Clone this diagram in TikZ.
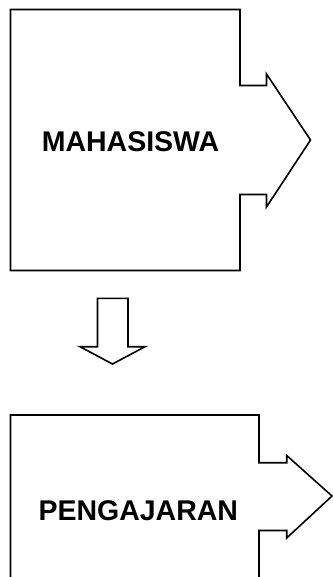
\documentclass[tikz,border=0pt]{standalone}
\usepackage{fontspec}
\setmainfont{Liberation Sans}
\begin{document}
\begin{tikzpicture}[x=1pt,y=-1pt,
  shapeline/.style={draw=black,line width=1.6pt,line join=miter,fill=white},
  label/.style={font=\bfseries\fontsize{28.5}{31}\selectfont,anchor=base,inner sep=0pt}]
\useasboundingbox (0,0) rectangle (332,577);
% top box with arrow
\draw[shapeline] (10.5,9.5) -- (240,9.5) -- (240,85.5) -- (266.5,85.5) -- (266.5,74)
  -- (310.5,140) -- (266.5,207) -- (266.5,194.5) -- (240,194.5) -- (240,270.5)
  -- (10.5,270.5) -- cycle;
\node[label] (mhs) at (130.5,151.7) {MAHASISWA};
% down arrow
\draw[shapeline] (97.5,298.3) -- (128,298.3) -- (128,346.7) -- (145,346.7)
  -- (112.5,364) -- (80,346.7) -- (97.5,346.7) -- cycle;
% bottom box with arrow
\draw[shapeline] (10.5,590) -- (10.5,415) -- (259,415) -- (259,462.7) -- (286.7,462.7)
  -- (286.7,455.5) -- (332,496) -- (286.7,538) -- (286.7,530.5) -- (259,530.5) -- (259,590);
\node[label] (pgj) at (138.3,520.7) {PENGAJARAN};
\end{tikzpicture}
\end{document}
